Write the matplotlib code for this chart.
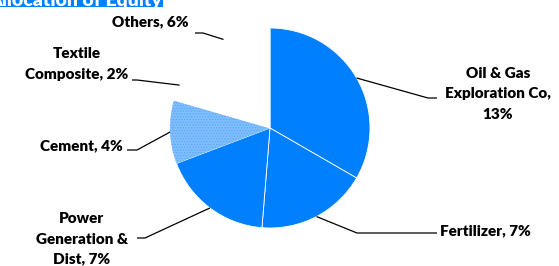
import numpy as np
import matplotlib.pyplot as plt
from matplotlib.patches import Rectangle

plt.rcParams['font.family'] = ['Lato', 'DejaVu Sans']
plt.rcParams['hatch.linewidth'] = 0.6

labels = ["Oil & Gas\nExploration Co,\n13%", "Fertilizer, 7%", "Power\nGeneration &\nDist, 7%",
          "Cement, 4%", "Textile\nComposite, 2%", "Others, 6%"]
shares = [13, 7, 7, 4, 2, 6]
colors = ["#0080FF", "#0080FF", "#0080FF", "#80BFFF", "white", "white"]

# label text position, alignment, leader elbow and leader end (pixel offsets from pie centre)
label_pos = [(228, 34), (170, -103), (-188, -111), (-147, -18), (-142, 64), (-120, 106)]
label_ha = ["center", "left", "center", "right", "right", "center"]
elbows = [(158, 30), (87, -105), (-125, -110), (-133, -22), (-133, 48), (-67, 95)]
ends = [(167, 30), (167, -105), (-133, -110), (-143, -22), (-138, 48), (-75, 95)]

fig = plt.figure(figsize=(5.59, 2.66), dpi=100)
ax = fig.add_axes([0, 0, 1, 1])

wedges, _ = ax.pie(shares, colors=colors, startangle=90, counterclock=False,
                   radius=100, wedgeprops=dict(edgecolor='white', linewidth=0.6))
wedges[3].set_hatch('......')
wedges[3].set_edgecolor('#5AA6FF')
wedges[3].set_linewidth(0)

ax.set_xlim(-270, 289)
ax.set_ylim(-138, 128)
ax.set_aspect('equal')
ax.axis('off')

for w, lab, pos, ha, elb, end in zip(wedges, labels, label_pos, label_ha, elbows, ends):
    mid = np.deg2rad((w.theta1 + w.theta2) / 2)
    edge = (100 * np.cos(mid), 100 * np.sin(mid))
    ax.plot([edge[0], elb[0], end[0]], [edge[1], elb[1], end[1]],
            color='black', lw=0.9, solid_capstyle='butt')
    ax.text(pos[0], pos[1], lab, ha=ha, va='center',
            multialignment='center', fontsize=11, fontweight='heavy',
            linespacing=1.65)

bar = Rectangle((-270, 121), 163, 7, facecolor='#0080FF', edgecolor='none',
                clip_on=False)
ax.add_patch(bar)
t = ax.text(-108, 122, "Allocation of Equity", color='white', fontsize=14,
            fontweight='heavy', ha='right', va='baseline')
t.set_clip_path(bar)

fig.savefig("out.png", dpi=100)
